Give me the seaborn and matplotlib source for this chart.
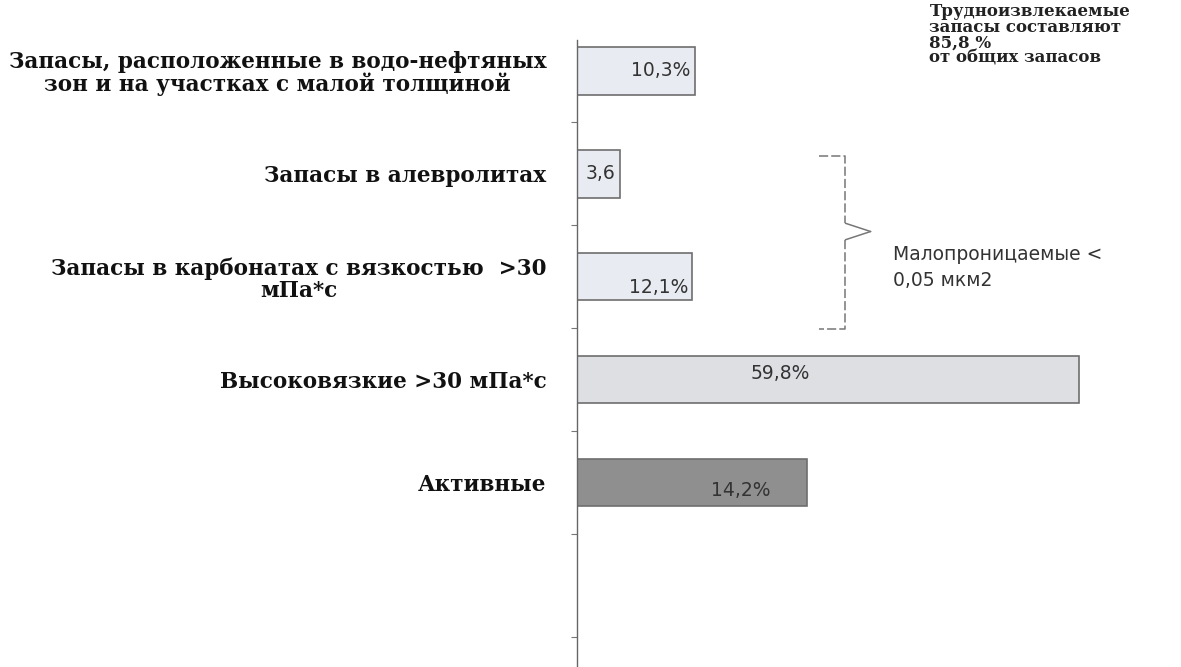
import matplotlib
matplotlib.use("Agg")
import matplotlib.pyplot as plt
import seaborn as sns
import pandas as pd

# Categories (top to bottom) and the shares printed on the bars
categories = [
    "Запасы, расположенные в водо-нефтяных\nзон и на участках с малой толщиной",
    "Запасы в алевролитах",
    "Запасы в карбонатах с вязкостью  >30\nмПа*с",
    "Высоковязкие >30 мПа*с",
    "Активные",
]
share_labels = ["10,3%", "3,6", "12,1%", "59,8%", "14,2%"]
# bar lengths as drawn in the picture (same % scale as the 59,8 bar)
bar_length = [14.1, 5.1, 13.7, 59.8, 27.4]

df = pd.DataFrame({"cat": categories, "len": bar_length})

sns.set_theme(style="white")
plt.rcParams["font.family"] = ["DejaVu Serif", "DejaVu Sans"]

fig = plt.figure(figsize=(11.81, 6.67), dpi=100)
ax = fig.add_axes([0.4886, 0.0, 0.5114, 0.94])

bar_colors = ["#e6eaf2", "#e6eaf2", "#e6eaf2", "#dddfe4", "#8f8f8f"]
sns.barplot(data=df, x="len", y="cat", hue="cat", palette=bar_colors,
            legend=False, width=0.46, edgecolor="#6e6e6e", linewidth=1.2,
            ax=ax)

ax.set_xlabel("")
ax.set_ylabel("")
ax.set_xticks([])

# tick marks between categories, labels at categories
ax.set_yticks(range(len(categories)))
ax.set_yticklabels(categories, fontsize=15.5, fontweight="bold", color="#111111",
                   linespacing=1.0)
for lab in ax.get_yticklabels():
    lab.set_multialignment("center")
ax.tick_params(axis="y", which="major", length=0, pad=22)
ax.set_yticks([i + 0.5 for i in range(-1, 6)], minor=True)
ax.tick_params(axis="y", which="minor", length=4, width=0.8, color="#777777",
               left=True)

ax.set_xlim(0, 72)
ax.set_ylim(5.79, -0.3)

for side in ["top", "right", "bottom"]:
    ax.spines[side].set_visible(False)
ax.spines["left"].set_color("#666666")
ax.spines["left"].set_linewidth(1.0)

# value labels inside the bars
label_frac = [0.96, 0.89, 0.965, 0.465, 0.84]
label_dy = [0.0, 0.0, 0.1, -0.06, 0.08]
for i, (txt, L) in enumerate(zip(share_labels, bar_length)):
    ax.text(L * label_frac[i], i + label_dy[i], txt, ha="right", va="center",
            fontsize=13.5, color="#333333", family="DejaVu Sans")

# brace around the low-permeability group
bx0, bx1, bx2 = 28.8, 32.0, 35.0
y_top, y_mid, y_bot = 0.83, 1.56, 2.51
ax.plot([bx0, bx1, bx1], [y_top, y_top, y_mid - 0.08], color="#777777",
        lw=1.1, ls=(0, (6, 2)), clip_on=False)
ax.plot([bx1, bx2], [y_mid - 0.08, y_mid], color="#777777", lw=1.1)
ax.plot([bx2, bx1], [y_mid, y_mid + 0.08], color="#777777", lw=1.1)
ax.plot([bx1, bx1, bx0], [y_mid + 0.08, y_bot, y_bot], color="#777777",
        lw=1.1, ls=(0, (6, 2)))
ax.text(37.7, 1.91, "Малопроницаемые <\n0,05 мкм2", ha="left",
        va="center", fontsize=13.5, color="#333333", linespacing=1.5,
        family="DejaVu Sans")

# note in the upper right corner
fig.text(0.787, 0.995, "Трудноизвлекаемые\nзапасы составляют\n85,8 %\nот общих запасов",
         ha="left", va="top", fontsize=12, fontweight="bold", color="#222222",
         linespacing=0.88)

fig.savefig("out.png", dpi=100)
